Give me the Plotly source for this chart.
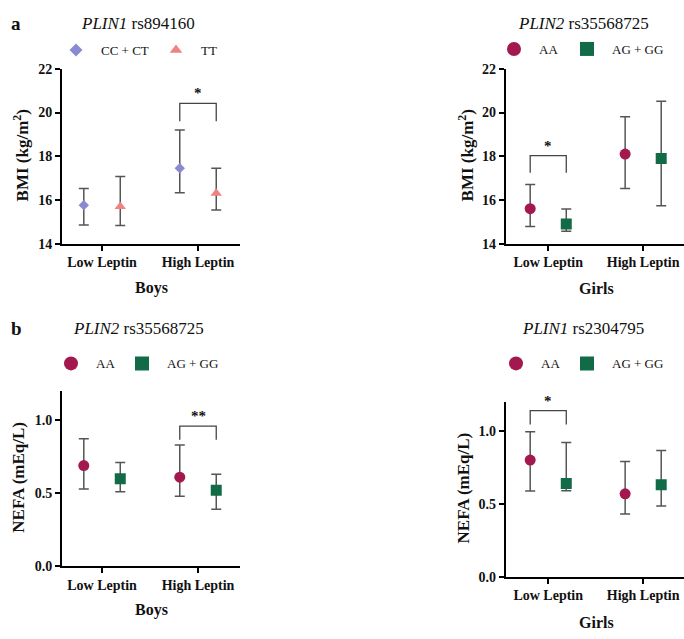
import plotly.graph_objects as go

W, H = 684, 639

categories = ["Low Leptin", "High Leptin"]

# Panel a (left): Boys BMI, PLIN1 rs894160
bmi_boys_cc_ct_mean = [15.76, 17.45]
bmi_boys_cc_ct_upper = [16.52, 19.20]
bmi_boys_cc_ct_lower = [14.85, 16.33]
bmi_boys_tt_mean = [15.70, 16.30]
bmi_boys_tt_upper = [17.07, 17.45]
bmi_boys_tt_lower = [14.83, 15.54]

# Panel a (right): Girls BMI, PLIN2 rs35568725
bmi_girls_aa_mean = [15.60, 18.10]
bmi_girls_aa_upper = [16.71, 19.81]
bmi_girls_aa_lower = [14.78, 16.52]
bmi_girls_ag_mean = [14.90, 17.90]
bmi_girls_ag_upper = [15.58, 20.51]
bmi_girls_ag_lower = [14.56, 15.73]

# Panel b (left): Boys NEFA, PLIN2 rs35568725
nefa_boys_aa_mean = [0.69, 0.61]
nefa_boys_aa_upper = [0.873, 0.83]
nefa_boys_aa_lower = [0.53, 0.48]
nefa_boys_ag_mean = [0.60, 0.52]
nefa_boys_ag_upper = [0.71, 0.63]
nefa_boys_ag_lower = [0.51, 0.39]

# Panel b (right): Girls NEFA, PLIN1 rs2304795
nefa_girls_aa_mean = [0.80, 0.568]
nefa_girls_aa_upper = [0.995, 0.79]
nefa_girls_aa_lower = [0.588, 0.43]
nefa_girls_ag_mean = [0.64, 0.63]
nefa_girls_ag_upper = [0.92, 0.866]
nefa_girls_ag_lower = [0.59, 0.485]

# Significance brackets: (category index, top, bottom, label)
sig_bmi_boys = (1, 20.42, 19.60, "*")
sig_bmi_girls = (0, 18.03, 17.24, "*")
sig_nefa_boys = (1, 0.96, 0.866, "**")
sig_nefa_girls = (0, 1.14, 1.044, "*")

bmi_ticks = [14, 16, 18, 20, 22]
nefa_ticks = [0.0, 0.5, 1.0]

SERIF = "Liberation Serif"
OFFSET = 0.19
COL_DIAMOND = "#8a8ad2"
COL_TRI = "#f08282"
COL_CIRCLE = "#a3194f"
COL_SQUARE = "#126b47"
ERR_COL = "#555555"
TXT = "#111111"

fig = go.Figure()

def add_series(mean, upper, lower, side, color, symbol, size, xa, ya):
    xs = [i + side * OFFSET for i in range(len(categories))]
    fig.add_trace(go.Scatter(
        x=xs, y=mean, mode="markers", showlegend=False, hoverinfo="skip",
        xaxis=xa, yaxis=ya,
        marker=dict(color=color, symbol=symbol, size=size, line=dict(width=0)),
        error_y=dict(type="data", symmetric=False,
                     array=[u - m for u, m in zip(upper, mean)],
                     arrayminus=[m - l for m, l in zip(mean, lower)],
                     color=ERR_COL, thickness=1.5, width=5),
    ))

def add_legend_item(name, color, symbol, size, legend):
    fig.add_trace(go.Scatter(
        x=[None], y=[None], mode="markers", name=name, legend=legend,
        marker=dict(color=color, symbol=symbol, size=size, line=dict(width=0)),
        showlegend=True,
    ))

# panel traces
add_series(bmi_boys_cc_ct_mean, bmi_boys_cc_ct_upper, bmi_boys_cc_ct_lower, -1, COL_DIAMOND, "diamond", 8, "x", "y")
add_series(bmi_boys_tt_mean, bmi_boys_tt_upper, bmi_boys_tt_lower, 1, COL_TRI, "triangle-up", 10, "x", "y")
add_series(bmi_girls_aa_mean, bmi_girls_aa_upper, bmi_girls_aa_lower, -1, COL_CIRCLE, "circle", 11, "x2", "y2")
add_series(bmi_girls_ag_mean, bmi_girls_ag_upper, bmi_girls_ag_lower, 1, COL_SQUARE, "square", 11, "x2", "y2")
add_series(nefa_boys_aa_mean, nefa_boys_aa_upper, nefa_boys_aa_lower, -1, COL_CIRCLE, "circle", 11, "x3", "y3")
add_series(nefa_boys_ag_mean, nefa_boys_ag_upper, nefa_boys_ag_lower, 1, COL_SQUARE, "square", 11, "x3", "y3")
add_series(nefa_girls_aa_mean, nefa_girls_aa_upper, nefa_girls_aa_lower, -1, COL_CIRCLE, "circle", 11, "x4", "y4")
add_series(nefa_girls_ag_mean, nefa_girls_ag_upper, nefa_girls_ag_lower, 1, COL_SQUARE, "square", 11, "x4", "y4")

# legends (one per entry for precise placement)
legend_specs = [
    ("CC + CT", COL_DIAMOND, "diamond", 10, "legend", 76, 44),
    ("TT", COL_TRI, "triangle-up", 11, "legend2", 176, 44),
    ("AA", COL_CIRCLE, "circle", 14, "legend3", 514, 43),
    ("AG + GG", COL_SQUARE, "square", 14, "legend4", 587, 43),
    ("AA", COL_CIRCLE, "circle", 14, "legend5", 71, 365),
    ("AG + GG", COL_SQUARE, "square", 14, "legend6", 142, 365),
    ("AA", COL_CIRCLE, "circle", 14, "legend7", 516, 365),
    ("AG + GG", COL_SQUARE, "square", 14, "legend8", 587, 365),
]
ITEMW = 40
SYM_X = 25  # approx symbol center from legend left edge
legend_layout = {}
for name, color, symbol, size, lg, px, py in legend_specs:
    add_legend_item(name, color, symbol, size, lg)
    legend_layout[lg] = dict(
        x=(px - SYM_X) / W, y=1 - py / H, xanchor="left", yanchor="middle",
        orientation="h", bgcolor="rgba(0,0,0,0)", borderwidth=0,
        font=dict(family=SERIF, size=13, color=TXT),
        itemwidth=ITEMW, itemclick=False, itemdoubleclick=False,
    )

def bracket(sig, xa, ya):
    ci, top, bot, label = sig
    x0 = ci - OFFSET
    x1 = ci + OFFSET
    fig.add_shape(type="path",
                  path=f"M {x0},{bot} L {x0},{top} L {x1},{top} L {x1},{bot}",
                  xref=xa, yref=ya, line=dict(color="#444444", width=1.3))
    fig.add_annotation(x=ci, y=top, xref=xa, yref=ya, text=label, showarrow=False,
                       yanchor="bottom", yshift=0,
                       font=dict(family=SERIF, size=15, color=TXT, weight="bold"))

bracket(sig_bmi_boys, "x", "y")
bracket(sig_bmi_girls, "x2", "y2")
bracket(sig_nefa_boys, "x3", "y3")
bracket(sig_nefa_girls, "x4", "y4")

axis_common = dict(showline=True, linecolor="black", linewidth=2, ticks="outside",
                   ticklen=5, tickwidth=2, tickcolor="black", showgrid=False,
                   zeroline=False, fixedrange=True,
                   tickfont=dict(family=SERIF, size=14, color=TXT, weight="bold"))

xl = [62 / W, 240 / W]
xr = [505.7 / W, 1.0]
ya_dom = [1 - 242.3 / H, 1 - 63.3 / H]
ybl_dom = [1 - 572.7 / H, 1 - 393.3 / H]
ybr_dom = [1 - 583.3 / H, 1 - 404.3 / H]

xcat = dict(tickmode="array", tickvals=list(range(len(categories))), ticktext=categories)

layout = dict(
    width=W, height=H, margin=dict(l=0, r=0, t=0, b=0),
    paper_bgcolor="white", plot_bgcolor="white", hovermode=False,
    xaxis=dict(domain=xl, range=[-0.417, 1.4375], anchor="y", **xcat, **axis_common),
    yaxis=dict(domain=ya_dom, range=[14, 22], anchor="x", tickvals=bmi_ticks, **axis_common),
    xaxis2=dict(domain=xr, range=[-0.448, 1.43], anchor="y2", **xcat, **axis_common),
    yaxis2=dict(domain=ya_dom, range=[14, 22], anchor="x2", tickvals=bmi_ticks, **axis_common),
    xaxis3=dict(domain=xl, range=[-0.417, 1.4375], anchor="y3", **xcat, **axis_common),
    yaxis3=dict(domain=ybl_dom, range=[0, 1.2], anchor="x3", tickvals=nefa_ticks, tickformat=".1f", **axis_common),
    xaxis4=dict(domain=xr, range=[-0.448, 1.43], anchor="y4", **xcat, **axis_common),
    yaxis4=dict(domain=ybr_dom, range=[0, 1.2], anchor="x4", tickvals=nefa_ticks, tickformat=".1f", **axis_common),
)
layout.update(legend_layout)
fig.update_layout(**layout)

def ptext(text, px, py, size, bold=False, angle=0, anchor="center"):
    fig.add_annotation(x=px / W, y=1 - py / H, xref="paper", yref="paper", text=text,
                       showarrow=False, textangle=angle, xanchor=anchor, yanchor="middle",
                       font=dict(family=SERIF, size=size, color=TXT,
                                 weight="bold" if bold else "normal"))

# panel letters
ptext("a", 16, 17, 19, bold=True)
ptext("b", 16, 329, 19, bold=True)
# titles
ptext("<i>PLIN1</i> rs894160", 138, 17, 17)
ptext("<i>PLIN2</i> rs35568725", 583, 17, 17)
ptext("<i>PLIN2</i> rs35568725", 138, 329, 17)
ptext("<i>PLIN1</i> rs2304795", 583, 329, 17)
# axis titles
ptext("BMI (kg/m<sup>2</sup>)", 21, 152, 17, bold=True, angle=-90)
ptext("BMI (kg/m<sup>2</sup>)", 466, 152, 17, bold=True, angle=-90)
ptext("NEFA (mEq/L)", 19, 482, 17, bold=True, angle=-90)
ptext("NEFA (mEq/L)", 463, 493, 17, bold=True, angle=-90)
ptext("Boys", 151, 288, 16, bold=True)
ptext("Girls", 596, 288, 16, bold=True)
ptext("Boys", 151, 618, 16, bold=True)
ptext("Girls", 596, 630, 16, bold=True)

fig.write_html("out.html", config={"displayModeBar": False, "staticPlot": True},
               post_script="document.body.style.margin='0';document.body.style.overflow='hidden';")
